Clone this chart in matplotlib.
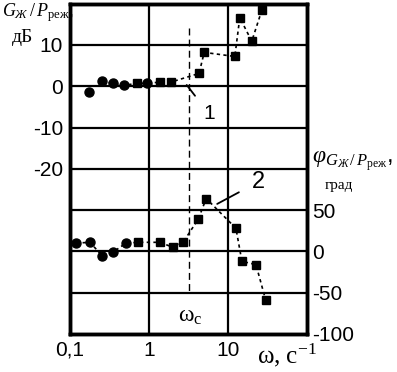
import matplotlib
matplotlib.use('Agg')
import matplotlib.pyplot as plt
from matplotlib.ticker import FixedLocator, FixedFormatter, NullLocator

plt.rcParams['font.family'] = ['Liberation Sans', 'DejaVu Sans']
plt.rcParams['mathtext.fontset'] = 'custom'
plt.rcParams['mathtext.rm'] = 'Liberation Serif'
plt.rcParams['mathtext.it'] = 'Liberation Serif:italic'

# curve 1: amplitude, dB (left axis)
amp_w_circ = [0.174, 0.254, 0.35, 0.48, 0.94]
amp_db_circ = [-1.4, 1.2, 0.7, 0.2, 0.7]
amp_w_sq = [0.70, 1.38, 1.9, 4.3, 5.0, 12.2, 14.1, 20.0, 26.8]
amp_db_sq = [0.7, 1.0, 1.0, 3.1, 8.2, 7.2, 16.6, 10.9, 18.4]
amp_w_line = [0.254, 0.35, 0.48, 0.70, 0.94, 1.38, 1.9, 4.3, 5.0, 12.2, 14.1, 20.0, 26.8]
amp_db_line = [1.2, 0.7, 0.2, 0.7, 0.7, 1.0, 1.0, 3.1, 8.2, 7.2, 16.6, 10.9, 18.4]

# curve 2: phase, degrees (right axis)
ph_w_circ = [0.119, 0.179, 0.254, 0.35, 0.51]
ph_deg_circ = [10, 11, -5, -1, 10]
ph_w_sq = [0.73, 1.38, 2.0, 2.7, 4.2, 5.3, 12.6, 15.0, 22.6, 30.0]
ph_deg_sq = [11, 11, 5, 11, 39, 64, 28, -12, -16, -59]

w_c = 3.2

fig = plt.figure(figsize=(3.97, 3.72), dpi=100)
ax = fig.add_axes([0.1763, 0.1022, 0.597, 0.888])
ax2 = ax.twinx()

ax.set_xscale('log')
ax.set_xlim(0.1, 100)
ax.set_ylim(-60, 20)
ax2.set_ylim(-100, 300)

ax.xaxis.set_major_locator(FixedLocator([0.1, 1, 10]))
ax.xaxis.set_major_formatter(FixedFormatter(['0,1', '1', '10']))
ax.xaxis.set_minor_locator(NullLocator())
ax.yaxis.set_major_locator(FixedLocator([-50, -40, -30, -20, -10, 0, 10]))
ax.yaxis.set_major_formatter(FixedFormatter(['', '', '', '-20', '-10', '0', '10']))
ax.tick_params(length=0, labelsize=15, pad=5)
ax.grid(True, color='black', linewidth=1.6)

ax2.yaxis.set_major_locator(FixedLocator([-100, -50, 0, 50]))
ax2.yaxis.set_major_formatter(FixedFormatter(['-100', '-50', '0', '50']))
ax2.yaxis.set_minor_locator(NullLocator())
ax2.tick_params(length=0, labelsize=15, pad=4)
for a in (ax, ax2):
    for s in a.spines.values():
        s.set_linewidth(2.5)

# amplitude
ax.plot(amp_w_line, amp_db_line, color='black', linestyle=(0, (2, 2)), linewidth=1.2)
ax.plot(amp_w_circ, amp_db_circ, 'o', color='black', markersize=6.5)
ax.plot(amp_w_sq, amp_db_sq, 's', color='black', markersize=6)

# phase
ph_w = ph_w_circ + ph_w_sq
ph_deg = ph_deg_circ + ph_deg_sq
ax2.plot(ph_w, ph_deg, color='black', linestyle=(0, (2, 2)), linewidth=1.2)
ax2.plot(ph_w_circ, ph_deg_circ, 'o', color='black', markersize=6.5)
ax2.plot(ph_w_sq, ph_deg_sq, 's', color='black', markersize=6)

# cutoff frequency
ax.plot([w_c, w_c], [14, -50], color='black', linestyle=(0, (5, 3)), linewidth=1)
ax.text(3.3, -55.8, 'ω$_\\mathrm{с}$', fontsize=17, family='Liberation Serif',
        ha='center', va='center')

# leader lines
ax.annotate('1', xy=(3.0, 0.3), xytext=(5.7, -6.6), fontsize=15,
            ha='center', va='center',
            arrowprops=dict(arrowstyle='-', color='black', linewidth=1.3,
                            shrinkA=6, shrinkB=0))
ax.annotate('2', xy=(7.3, -28.5), xytext=(24, -23.2), fontsize=17,
            ha='center', va='center',
            arrowprops=dict(arrowstyle='-', color='black', linewidth=1.3,
                            shrinkA=8, shrinkB=0))

# axis captions
fig.text(0.005, 0.966, r'$G_Ж\,/\,P_{\mathrm{реж}}$,', fontsize=13, ha='left', va='center')
fig.text(0.03, 0.90, 'дБ', fontsize=14, family='Liberation Serif', ha='left', va='center')
fig.text(0.785, 0.565, r'$\varphi_{G_Ж\,/\,P_{\mathrm{реж}}}$,', fontsize=17, ha='left', va='center')
fig.text(0.854, 0.50, 'град', fontsize=11, family='Liberation Serif', ha='center', va='center')
fig.text(0.723, 0.045, r'ω, с$^{-1}$', fontsize=18, family='Liberation Serif', ha='center', va='center')

fig.savefig('out.png', dpi=100)
